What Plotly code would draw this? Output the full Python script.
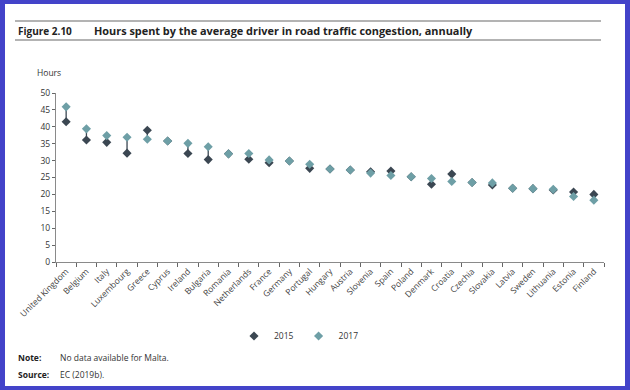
import plotly.graph_objects as go

countries = ["United Kingdom", "Belgium", "Italy", "Luxembourg", "Greece", "Cyprus",
             "Ireland", "Bulgaria", "Romania", "Netherlands", "France", "Germany",
             "Portugal", "Hungary", "Austria", "Slovenia", "Spain", "Poland", "Denmark",
             "Croatia", "Czechia", "Slovakia", "Latvia", "Sweden", "Lithuania",
             "Estonia", "Finland"]
hours_2015 = [41.5, 36.1, 35.4, 32.2, 39.0, 35.8, 32.1, 30.3, 32.0, 30.4, 29.4, 29.9,
              27.7, 27.5, 27.2, 26.7, 26.9, 25.2, 23.0, 26.0, 23.5, 22.8, 21.8, 21.7,
              21.3, 20.7, 20.0]
hours_2017 = [45.9, 39.4, 37.4, 36.9, 36.3, 35.8, 35.1, 34.1, 32.0, 32.1, 30.2, 29.9,
              28.9, 27.5, 27.2, 26.3, 25.6, 25.2, 24.7, 23.8, 23.5, 23.4, 21.8, 21.7,
              21.5, 19.4, 18.3]
y_ticks = [0, 5, 10, 15, 20, 25, 30, 35, 40, 45, 50]

W, H = 630, 390
L, R, T, B = 56, 604, 93, 262


def px(x):
    return (x - L) / (R - L)


def py(y):
    return (B - y) / (B - T)


C15 = "#3b4752"
C17 = "#6e9fa6"
FONT = "Open Sans"

# connecting segments
seg_x, seg_y = [], []
for c, a, b in zip(countries, hours_2015, hours_2017):
    seg_x += [c, c, None]
    seg_y += [a, b, None]

fig = go.Figure()
fig.add_trace(go.Scatter(x=seg_x, y=seg_y, mode="lines", line=dict(color=C15, width=1.3),
                         showlegend=False, hoverinfo="skip", connectgaps=False))
fig.add_trace(go.Scatter(x=countries, y=hours_2015, mode="markers", name="2015",
                         marker=dict(symbol="diamond", size=7, color=C15)))
fig.add_trace(go.Scatter(x=countries, y=hours_2017, mode="markers", name="2017",
                         marker=dict(symbol="diamond", size=7, color=C17)))

shapes = [
    dict(type="rect", xref="paper", yref="paper", x0=px(5), x1=px(625), y0=py(386), y1=py(4),
         fillcolor="white", line=dict(width=0), layer="below"),
    dict(type="line", xref="paper", yref="paper", x0=px(15), x1=px(601), y0=py(21), y1=py(21),
         line=dict(color="#9a9a9a", width=1.6)),
    dict(type="line", xref="paper", yref="paper", x0=px(15), x1=px(601), y0=py(40), y1=py(40),
         line=dict(color="#9a9a9a", width=1.6)),
]

ann = [
    dict(text="<b>Figure 2.10</b>", x=px(16), y=py(30.5), xanchor="left", yanchor="middle",
         font=dict(size=10, color="#222", family=FONT)),
    dict(text="<b>Hours spent by the average driver in road traffic congestion, annually</b>",
         x=px(92), y=py(30.5), xanchor="left", yanchor="middle",
         font=dict(size=10.9, color="#222", family=FONT)),
    dict(text="Hours", x=px(35), y=py(72), xanchor="left", yanchor="middle",
         font=dict(size=8.5, color="#333", family=FONT)),
    dict(text="<b>Note:</b>", x=px(16), y=py(357), xanchor="left", yanchor="middle",
         font=dict(size=8.5, color="#222", family=FONT)),
    dict(text="No data available for Malta.", x=px(58), y=py(357), xanchor="left", yanchor="middle",
         font=dict(size=8.5, color="#333", family=FONT)),
    dict(text="<b>Source:</b>", x=px(16), y=py(374), xanchor="left", yanchor="middle",
         font=dict(size=8.5, color="#222", family=FONT)),
    dict(text="EC (2019b).", x=px(58), y=py(374), xanchor="left", yanchor="middle",
         font=dict(size=8.5, color="#333", family=FONT)),
]
for a in ann:
    a.update(xref="paper", yref="paper", showarrow=False)

fig.update_layout(
    width=W, height=H,
    margin=dict(l=L, r=W - R, t=T, b=H - B, autoexpand=False),
    paper_bgcolor="#4343c9",
    plot_bgcolor="white",
    font=dict(family=FONT, size=8.5, color="#444"),
    shapes=shapes,
    annotations=ann,
    showlegend=True,
    legend=dict(orientation="h", xref="container", yref="container",
                x=299 / W, xanchor="center", y=1 - 336 / H, yanchor="middle",
                font=dict(size=8.5, color="#333", family=FONT), itemwidth=30,
                bgcolor="rgba(0,0,0,0)", traceorder="normal"),
    xaxis=dict(type="category", categoryorder="array", categoryarray=countries,
               range=[-0.5, len(countries) - 0.5], automargin=False,
               showline=True, linecolor="#8a8a8a", linewidth=1.2,
               ticks="outside", ticklen=4, tickcolor="#666", tickson="boundaries",
               tickangle=-45, tickfont=dict(size=8.5, color="#444"),
               showgrid=False, zeroline=False, fixedrange=True),
    yaxis=dict(range=[0, 50], tickvals=y_ticks, showline=True, linecolor="#8a8a8a",
               linewidth=1.2, ticks="outside", ticklen=3, tickcolor="#666", automargin=False,
               tickfont=dict(size=8.5, color="#333"), showgrid=False, zeroline=False),
)

fig.write_html("out.html", config={"displayModeBar": False},
               post_script="document.body.style.margin='0';document.body.style.padding='0';")
